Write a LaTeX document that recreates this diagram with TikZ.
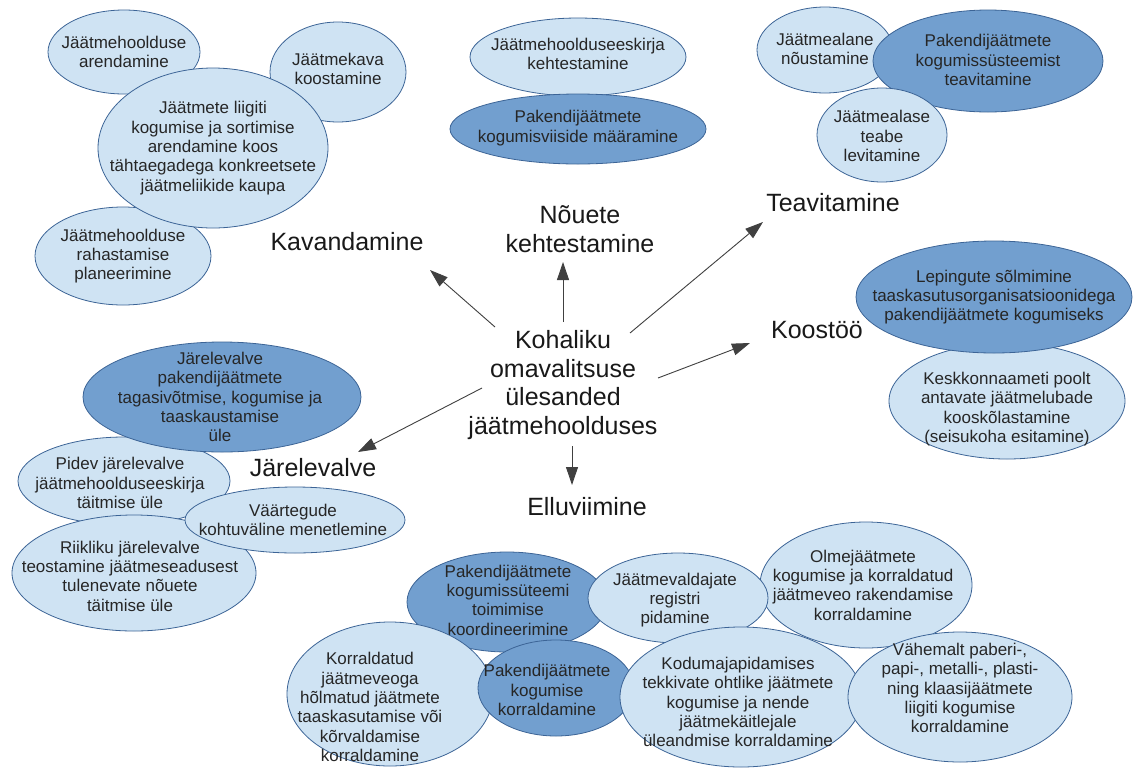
\documentclass[tikz,border=0pt]{standalone}
\usepackage{fontspec}
\setmainfont{Liberation Sans}
\usetikzlibrary{arrows.meta}

\tikzset{
  lite/.style={fill=litefill, draw=edgeblue, line width=0.8pt},
  dark/.style={fill=darkfill, draw=edgeblue, line width=0.8pt},
  txt/.style={align=center, inner sep=0pt, text=black!85, font=\fontsize{17}{19.3}\selectfont},
  lbl/.style={align=center, inner sep=1pt, text=black!90, font=\fontsize{25}{28.5}\selectfont},
  arr/.style={draw=black!75, line width=0.9pt, -{Triangle[length=18pt,width=12pt]}}
}

\begin{document}
\begin{tikzpicture}[x=1pt,y=1pt]

% Define colors based on the image
\definecolor{litefill}{RGB}{207,227,243}  % light blue
\definecolor{darkfill}{RGB}{114,159,207}  % darker blue
\definecolor{edgeblue}{RGB}{60,100,150}   % outline

\useasboundingbox[fill=white] (0,0) rectangle (1133,-769);

% Kavandamine
\draw[lite] (124,-52) ellipse [x radius=76, y radius=42];
\node[txt] (arend) at (124,-52) {Jäätmehoolduse\\arendamine};
\draw[lite] (338,-72) ellipse [x radius=68, y radius=50];
\node[txt] (kava) at (338,-69) {Jäätmekava\\koostamine};
\draw[lite] (123,-256) ellipse [x radius=88, y radius=49];
\node[txt] (rahast) at (123,-256) {Jäätmehoolduse\\rahastamise\\planeerimine};
\draw[lite] (213,-148) ellipse [x radius=115, y radius=80];
\node[txt] (liigiti) at (213,-148) {Jäätmete liigiti\\kogumise ja sortimise\\arendamine koos\\tähtaegadega konkreetsete\\jäätmeliikide kaupa};

% Nõuete kehtestamine
\draw[lite] (578,-57) ellipse [x radius=108, y radius=39];
\node[txt] (eeskiri) at (578,-54) {Jäätmehoolduseeskirja\\kehtestamine};
\draw[dark] (578,-129) ellipse [x radius=128, y radius=35];
\node[txt] (viisid) at (578,-128) {Pakendijäätmete\\kogumisviiside määramine};

% Teavitamine
\draw[lite] (825,-50) ellipse [x radius=68, y radius=43];
\node[txt] (noust) at (825,-49) {Jäätmealane\\nõustamine};
\draw[dark] (988,-61) ellipse [x radius=115, y radius=51];
\node[txt] (pakteav) at (988,-60) {Pakendijäätmete\\kogumissüsteemist\\teavitamine};
\draw[lite] (882,-135) ellipse [x radius=65, y radius=47];
\node[txt] (teave) at (882,-136) {Jäätmealase\\teabe\\levitamine};

% Koostöö
\draw[lite] (1007,-401) ellipse [x radius=118, y radius=58];
\node[txt] (kesk) at (1007,-409) {Keskkonnaameti poolt\\antavate jäätmelubade\\kooskõlastamine\\(seisukoha esitamine)};
\draw[dark] (994,-297) ellipse [x radius=138, y radius=56];
\node[txt] (lepingud) at (994,-297) {Lepingute sõlmimine\\taaskasutusorganisatsioonidega\\pakendijäätmete kogumiseks};

% Järelevalve
\draw[lite] (124,-481) ellipse [x radius=106, y radius=44];
\node[txt] (pidev) at (120,-483) {Pidev järelevalve\\jäätmehoolduseeskirja\\täitmise üle};
\draw[lite] (134,-573) ellipse [x radius=122, y radius=58];
\node[txt] (riiklik) at (130,-576) {Riikliku järelevalve\\teostamine jäätmeseadusest\\tulenevate nõuete\\täitmise üle};
\draw[lite] (295,-520) ellipse [x radius=110, y radius=33];
\node[txt] (vaar) at (293,-520) {Väärtegude\\kohtuväline menetlemine};
\draw[dark] (222,-397) ellipse [x radius=139, y radius=55];
\node[txt] (pakjarel) at (220,-397) {Järelevalve\\pakendijäätmete\\tagasivõtmise, kogumise ja\\taaskaustamise\\üle};

% Elluviimine
\draw[dark] (507,-602) ellipse [x radius=100, y radius=50];
\node[txt] (koord) at (508,-600) {Pakendijäätmete\\kogumissüteemi\\toimimise\\koordineerimine};
\draw[lite] (866,-585) ellipse [x radius=106, y radius=63];
\node[txt] (olme) at (863,-585) {Olmejäätmete\\kogumise ja korraldatud\\jäätmeveo rakendamise\\korraldamine};
\draw[lite] (678,-598) ellipse [x radius=90, y radius=45];
\node[txt] (register) at (675,-600) {Jäätmevaldajate\\registri\\pidamine};
\draw[lite] (390,-694) ellipse [x radius=103, y radius=72];
\node[txt] (veog) at (370,-707) {Korraldatud\\jäätmeveoga\\hõlmatud jäätmete\\taaskasutamise või\\kõrvaldamise\\korraldamine};
\draw[dark] (556,-688) ellipse [x radius=78, y radius=48];
\node[txt] (pakkorr) at (547,-690) {Pakendijäätmete\\kogumise\\korraldamine};
\draw[lite] (741,-697) ellipse [x radius=121, y radius=70];
\node[txt] (ohtlik) at (738,-702) {Kodumajapidamises\\tekkivate ohtlike jäätmete\\kogumise ja nende\\jäätmekäitlejale\\üleandmise korraldamine};
\draw[lite] (960,-697) ellipse [x radius=112, y radius=65];
\node[txt] (paber) at (960,-688) {Vähemalt paberi-,\\papi-, metalli-, plasti-\\ning klaasijäätmete\\liigiti kogumise\\korraldamine};

% Center and areas
\node[lbl] (ctr) at (563,-385) {Kohaliku\\omavalitsuse\\ülesanded\\jäätmehoolduses};
\node[lbl] (kav) at (347,-242) {Kavandamine};
\node[lbl] (noue) at (580,-229) {Nõuete\\kehtestamine};
\node[lbl] (teav) at (833,-203) {Teavitamine};
\node[lbl] (koos) at (817,-330) {Koostöö};
\node[lbl] (jarel) at (313,-468) {Järelevalve};
\node[lbl] (ellu) at (587,-507) {Elluviimine};

% Arrows
\draw[arr] ([shift={(-68,58)}]ctr.center) -- ([shift={(83,-28)}]kav.center);
\draw[arr] ([shift={(0,63)}]ctr.center) -- ([shift={(-17,-33)}]noue.center);
\draw[arr] ([shift={(67,52)}]ctr.center) -- ([shift={(-70,-19)}]teav.center);
\draw[arr] ([shift={(95,7)}]ctr.center) -- ([shift={(-67,-13)}]koos.center);
\draw[arr] ([shift={(-81,-3)}]ctr.center) -- ([shift={(45,16)}]jarel.center);
\draw[arr] ([shift={(9,-61)}]ctr.center) -- ([shift={(-15,22)}]ellu.center);

\end{tikzpicture}
\end{document}
